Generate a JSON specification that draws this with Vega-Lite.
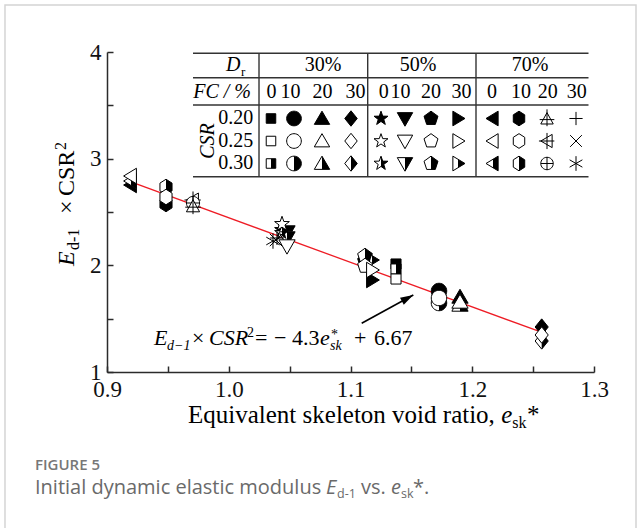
{
"$schema": "https://vega.github.io/schema/vega-lite/v6.json",
"width": 487, "height": 320,
"autosize": {"type": "none"},
"padding": {"left": 107, "top": 52, "right": 47, "bottom": 156},
"background": "white",
"config": {
  "view": {"stroke": null},
  "axis": {"domainColor": "#2b2b2b", "tickColor": "#2b2b2b", "domainWidth": 1.5, "tickWidth": 1.5, "tickSize": -6, "labelFont": "Liberation Serif", "labelFontSize": 23, "labelColor": "#111", "grid": false}
},
"datasets": {
  "frame": [{"x": 0.81622, "x2": 1.3345, "y": 4.4406, "y2": -0.5749}],
  "fit": [{"x": 0.92136, "y": 2.7747}, {"x": 1.25565, "y": 1.3778}],
  "arrow": [{"x": 1.1092, "y": 1.4566, "x2": 1.15158, "y2": 1.72195}],
  "head": [{"x": 1.15158, "y": 1.72195}],
  "hl": [{"x": 0.97064, "x2": 1.29548, "y": 3.9878}, {"x": 0.97064, "x2": 1.29548, "y": 3.7591}, {"x": 0.97064, "x2": 1.29548, "y": 3.5031}, {"x": 0.97064, "x2": 1.29548, "y": 2.8309}],
  "vl": [{"x": 1.02485, "y": 3.9878, "y2": 2.8309}, {"x": 1.11413, "y": 3.9878, "y2": 2.8309}, {"x": 1.20308, "y": 3.9878, "y2": 2.8309}],
  "sym": [
    {"k": "plot", "s": "70-0-0.25", "x": 0.91971, "y": 2.8375},
    {"k": "plot", "s": "70-0-0.30", "x": 0.91971, "y": 2.7906},
    {"k": "plot", "s": "70-0-0.20", "x": 0.91971, "y": 2.7531},
    {"k": "plot", "s": "70-10-0.30", "x": 0.94846, "y": 2.7344},
    {"k": "plot", "s": "70-10-0.25", "x": 0.94846, "y": 2.6406},
    {"k": "plot", "s": "70-10-0.20", "x": 0.94846, "y": 2.575},
    {"k": "plot", "s": "70-20-0.25", "x": 0.97064, "y": 2.6125},
    {"k": "plot", "s": "70-20-0.30", "x": 0.97064, "y": 2.5844},
    {"k": "plot", "s": "70-20-0.20", "x": 0.97064, "y": 2.5563},
    {"k": "plot", "s": "70-30-0.20", "x": 1.03963, "y": 2.2563},
    {"k": "plot", "s": "70-30-0.25", "x": 1.0388, "y": 2.2375},
    {"k": "plot", "s": "70-30-0.30", "x": 1.03634, "y": 2.2281},
    {"k": "plot", "s": "50-0-0.25", "x": 1.04374, "y": 2.3875},
    {"k": "plot", "s": "50-0-0.20", "x": 1.04374, "y": 2.3313},
    {"k": "plot", "s": "50-0-0.30", "x": 1.04374, "y": 2.3031},
    {"k": "plot", "s": "50-10-0.20", "x": 1.04784, "y": 2.3125},
    {"k": "plot", "s": "50-10-0.30", "x": 1.04784, "y": 2.2563},
    {"k": "plot", "s": "50-10-0.25", "x": 1.04784, "y": 2.1813},
    {"k": "plot", "s": "50-20-0.30", "x": 1.11191, "y": 2.0875},
    {"k": "plot", "s": "50-20-0.20", "x": 1.11191, "y": 2.0406},
    {"k": "plot", "s": "50-20-0.25", "x": 1.11191, "y": 1.9938},
    {"k": "plot", "s": "50-30-0.30", "x": 1.11766, "y": 2.05},
    {"k": "plot", "s": "50-30-0.25", "x": 1.11766, "y": 1.9563},
    {"k": "plot", "s": "50-30-0.20", "x": 1.11766, "y": 1.8625},
    {"k": "plot", "s": "30-0-0.20", "x": 1.13737, "y": 2.0125},
    {"k": "plot", "s": "30-0-0.30", "x": 1.13737, "y": 1.9656},
    {"k": "plot", "s": "30-0-0.25", "x": 1.13737, "y": 1.8719},
    {"k": "plot", "s": "30-10-0.20", "x": 1.17269, "y": 1.7594},
    {"k": "plot", "s": "30-10-0.25", "x": 1.17269, "y": 1.6938},
    {"k": "plot", "s": "30-10-0.30", "x": 1.17269, "y": 1.6469},
    {"k": "plot", "s": "30-20-0.20", "x": 1.18993, "y": 1.7031},
    {"k": "plot", "s": "30-20-0.25", "x": 1.18993, "y": 1.6563},
    {"k": "plot", "s": "30-20-0.30", "x": 1.18993, "y": 1.6281},
    {"k": "plot", "s": "30-30-0.20", "x": 1.25704, "y": 1.4219},
    {"k": "plot", "s": "30-30-0.25", "x": 1.25704, "y": 1.3469},
    {"k": "plot", "s": "30-30-0.30", "x": 1.25704, "y": 1.2906},
    {"k": "legend", "s": "30-0-0.20", "x": 1.0347, "y": 3.3766},
    {"k": "legend", "s": "30-0-0.25", "x": 1.0347, "y": 3.1656},
    {"k": "legend", "s": "30-0-0.30", "x": 1.0347, "y": 2.9547},
    {"k": "legend", "s": "30-10-0.20", "x": 1.05359, "y": 3.3766},
    {"k": "legend", "s": "30-10-0.25", "x": 1.05359, "y": 3.1656},
    {"k": "legend", "s": "30-10-0.30", "x": 1.05359, "y": 2.9547},
    {"k": "legend", "s": "30-20-0.20", "x": 1.07659, "y": 3.3766},
    {"k": "legend", "s": "30-20-0.25", "x": 1.07659, "y": 3.1656},
    {"k": "legend", "s": "30-20-0.30", "x": 1.07659, "y": 2.9547},
    {"k": "legend", "s": "30-30-0.20", "x": 1.10041, "y": 3.3766},
    {"k": "legend", "s": "30-30-0.25", "x": 1.10041, "y": 3.1656},
    {"k": "legend", "s": "30-30-0.30", "x": 1.10041, "y": 2.9547},
    {"k": "legend", "s": "50-0-0.20", "x": 1.12505, "y": 3.3766},
    {"k": "legend", "s": "50-0-0.25", "x": 1.12505, "y": 3.1656},
    {"k": "legend", "s": "50-0-0.30", "x": 1.12505, "y": 2.9547},
    {"k": "legend", "s": "50-10-0.20", "x": 1.14476, "y": 3.3766},
    {"k": "legend", "s": "50-10-0.25", "x": 1.14476, "y": 3.1656},
    {"k": "legend", "s": "50-10-0.30", "x": 1.14476, "y": 2.9547},
    {"k": "legend", "s": "50-20-0.20", "x": 1.16612, "y": 3.3766},
    {"k": "legend", "s": "50-20-0.25", "x": 1.16612, "y": 3.1656},
    {"k": "legend", "s": "50-20-0.30", "x": 1.16612, "y": 2.9547},
    {"k": "legend", "s": "50-30-0.20", "x": 1.1883, "y": 3.3766},
    {"k": "legend", "s": "50-30-0.25", "x": 1.1883, "y": 3.1656},
    {"k": "legend", "s": "50-30-0.30", "x": 1.1883, "y": 2.9547},
    {"k": "legend", "s": "70-0-0.20", "x": 1.21704, "y": 3.3766},
    {"k": "legend", "s": "70-0-0.25", "x": 1.21704, "y": 3.1656},
    {"k": "legend", "s": "70-0-0.30", "x": 1.21704, "y": 2.9547},
    {"k": "legend", "s": "70-10-0.20", "x": 1.2384, "y": 3.3766},
    {"k": "legend", "s": "70-10-0.25", "x": 1.2384, "y": 3.1656},
    {"k": "legend", "s": "70-10-0.30", "x": 1.2384, "y": 2.9547},
    {"k": "legend", "s": "70-20-0.20", "x": 1.2614, "y": 3.3766},
    {"k": "legend", "s": "70-20-0.25", "x": 1.2614, "y": 3.1656},
    {"k": "legend", "s": "70-20-0.30", "x": 1.2614, "y": 2.9547},
    {"k": "legend", "s": "70-30-0.20", "x": 1.28522, "y": 3.3766},
    {"k": "legend", "s": "70-30-0.25", "x": 1.28522, "y": 3.1656},
    {"k": "legend", "s": "70-30-0.30", "x": 1.28522, "y": 2.9547}
  ],
  "tblC": [
    {"t": "30%", "x": 1.07741, "y": 3.87813}, {"t": "50%", "x": 1.15544, "y": 3.87813}, {"t": "70%", "x": 1.24743, "y": 3.87813},
    {"t": "0", "x": 1.03519, "y": 3.62782}, {"t": "10", "x": 1.0508, "y": 3.62782}, {"t": "20", "x": 1.07692, "y": 3.62782}, {"t": "30", "x": 1.10411, "y": 3.62782},
    {"t": "0", "x": 1.12727, "y": 3.62782}, {"t": "10", "x": 1.14107, "y": 3.62782}, {"t": "20", "x": 1.16612, "y": 3.62782}, {"t": "30", "x": 1.19117, "y": 3.62782},
    {"t": "0", "x": 1.21622, "y": 3.62782}, {"t": "10", "x": 1.24004, "y": 3.62782}, {"t": "20", "x": 1.26197, "y": 3.62782}, {"t": "30", "x": 1.28587, "y": 3.62782}
  ],
  "tblR": [{"t": "0.20", "x": 1.02016, "y": 3.3766}, {"t": "0.25", "x": 1.02016, "y": 3.1656}, {"t": "0.30", "x": 1.02016, "y": 2.9547}],
  "tblItL": [{"t": "D", "x": 0.99774, "y": 3.87813}],
  "tblSub": [{"t": "r", "x": 1.01006, "y": 3.81531}],
  "tblItR": [{"t": "FC / %", "x": 1.01828, "y": 3.62782}],
  "tblRot": [{"t": "CSR", "x": 0.98296, "y": 3.1656}],
  "eqIt": [{"t": "E", "x": 0.9386, "y": 1.25312}, {"t": "CSR", "x": 0.98378, "y": 1.25312}, {"t": "e", "x": 1.07495, "y": 1.25312}],
  "eqUp": [{"t": "×", "x": 0.96982, "y": 1.25312}, {"t": "=", "x": 1.02156, "y": 1.25312}, {"t": "−", "x": 1.03717, "y": 1.25312}, {"t": "4.3", "x": 1.05195, "y": 1.25312}, {"t": "+", "x": 1.10287, "y": 1.25312}, {"t": "6.67", "x": 1.1193, "y": 1.25312}],
  "eqSubIt": [{"t": "d−1", "x": 0.94928, "y": 1.20625}, {"t": "sk", "x": 1.08316, "y": 1.20625}],
  "eqSup": [{"t": "2", "x": 1.01499, "y": 1.32812}, {"t": "*", "x": 1.08398, "y": 1.30937}],
  "xtUp": [{"t": "Equivalent skeleton void ratio,", "x": 0.96653, "y": 0.52194}, {"t": "*", "x": 1.24497, "y": 0.52194}],
  "xtIt": [{"t": "e", "x": 1.22378, "y": 0.52194}],
  "xtSub": [{"t": "sk", "x": 1.2329, "y": 0.47507}],
  "ytIt": [{"t": "E", "x": 0.8729, "y": 1.99381}],
  "ytUp": [{"t": "×", "x": 0.8729, "y": 2.4813}, {"t": "CSR", "x": 0.8729, "y": 2.65004}],
  "ytSmall": [{"t": "d-1", "x": 0.877, "y": 2.14381}, {"t": "2", "x": 0.86632, "y": 3.08128}],
  "capHead": [{"t": "FIGURE 5", "x": 0.84086, "y": 0.08137}],
  "capUp": [{"t": "Initial dynamic elastic modulus", "x": 0.84086, "y": -0.14362}, {"t": "vs.", "x": 1.10862, "y": -0.14362}, {"t": "*.", "x": 1.15133, "y": -0.14362}],
  "capIt": [{"t": "E", "x": 1.07988, "y": -0.14362}, {"t": "e", "x": 1.13326, "y": -0.14362}],
  "capSub": [{"t": "d-1", "x": 1.08891, "y": -0.18112}, {"t": "sk", "x": 1.14148, "y": -0.18112}]
},
"encoding": {
  "x": {"field": "x", "type": "quantitative", "scale": {"domain": [0.9, 1.3], "nice": false, "zero": false},
        "axis": {"title": null, "values": [0.9, 0.95, 1, 1.05, 1.1, 1.15, 1.2, 1.25, 1.3], "labelExpr": "round(datum.value*100) % 10 == 0 ? format(datum.value, '.1f') : ''", "labelPadding": 12.5, "labelFlush": false, "labelOverlap": false}},
  "y": {"field": "y", "type": "quantitative", "scale": {"domain": [1, 4], "nice": false, "zero": false},
        "axis": {"title": null, "values": [1, 1.5, 2, 2.5, 3, 3.5, 4], "labelExpr": "round(datum.value*10) % 10 == 0 ? format(datum.value, 'd') : ''", "labelPadding": 12, "labelOverlap": false}}
},
"resolve": {"scale": {"shape": "independent"}},
"layer": [
  {"data": {"name": "frame"}, "mark": {"type": "rect", "fill": "white", "fillOpacity": 0, "stroke": "#d4d4d4", "strokeWidth": 1.5},
   "encoding": {"x2": {"field": "x2"}, "y2": {"field": "y2"}}},
  {"data": {"name": "fit"}, "mark": {"type": "line", "color": "#ee1c25", "strokeWidth": 1.3}, "encoding": {}},
  {"data": {"name": "arrow"}, "mark": {"type": "rule", "color": "black", "strokeWidth": 1.6}, "encoding": {"x2": {"field": "x2"}, "y2": {"field": "y2"}}},
  {"data": {"name": "head"}, "mark": {"type": "point", "shape": "M0,0L0.6,2L-0.6,2Z", "size": 169, "angle": 61.3, "filled": true, "fill": "black", "opacity": 1, "strokeWidth": 0}, "encoding": {}},
  {"data": {"name": "hl"}, "mark": {"type": "rule", "color": "#333", "strokeWidth": 1.4}, "encoding": {"x2": {"field": "x2"}}},
  {"data": {"name": "vl"}, "mark": {"type": "rule", "color": "#333", "strokeWidth": 1.4}, "encoding": {"y2": {"field": "y2"}}},
  {"data": {"name": "sym"},
   "transform": [{"filter": "indexof(datum.s,'0.20')>0 && indexof(datum.s,'70-20')<0 && indexof(datum.s,'70-30')<0"}],
   "mark": {"type": "point", "filled": true, "fill": "black", "stroke": "black", "strokeWidth": 1, "opacity": 1},
   "encoding": {
     "shape": {"field": "s", "type": "nominal", "legend": null, "scale": {
       "domain": ["30-0-0.20", "30-10-0.20", "30-20-0.20", "30-30-0.20", "50-0-0.20", "50-10-0.20", "50-20-0.20", "50-30-0.20", "70-0-0.20", "70-10-0.20"],
       "range": ["M-0.65,-0.65H0.65V0.65H-0.65Z", "M-1,0A1,1 0 1,0 1,0A1,1 0 1,0 -1,0Z", "M0,-1L1.05,0.8L-1.05,0.8Z", "M0,-1.05L0.85,0L0,1.05L-0.85,0Z", "M0,-1L0.235,-0.324L0.951,-0.309L0.38,0.124L0.588,0.809L0,0.4L-0.588,0.809L-0.38,0.124L-0.951,-0.309L-0.235,-0.324Z", "M-1.05,-0.8L1.05,-0.8L0,1.05Z", "M0,-1L0.951,-0.309L0.588,0.809L-0.588,0.809L-0.951,-0.309Z", "M-0.7,-1L0.95,0L-0.7,1Z", "M0.7,-1L-0.95,0L0.7,1Z", "M0,-1L0.78,-0.5L0.78,0.5L0,1L-0.78,0.5L-0.78,-0.5Z"]}},
     "size": {"field": "k", "type": "nominal", "legend": null, "scale": {"domain": ["plot", "legend"], "range": [240, 215]}}
   }},
  {"data": {"name": "sym"},
   "transform": [{"filter": "indexof(datum.s,'0.30')>0 && indexof(datum.s,'70-20')<0 && indexof(datum.s,'70-30')<0"}],
   "mark": {"type": "point", "filled": true, "fill": "white", "stroke": "black", "strokeWidth": 1, "opacity": 1},
   "encoding": {
     "shape": {"field": "s", "type": "nominal", "legend": null, "scale": {
       "domain": ["30-0-0.30", "30-10-0.30", "30-20-0.30", "30-30-0.30", "50-0-0.30", "50-10-0.30", "50-20-0.30", "50-30-0.30", "70-0-0.30", "70-10-0.30"],
       "range": ["M-0.65,-0.65H0.65V0.65H-0.65Z", "M-1,0A1,1 0 1,0 1,0A1,1 0 1,0 -1,0Z", "M0,-1L1.05,0.8L-1.05,0.8Z", "M0,-1.05L0.85,0L0,1.05L-0.85,0Z", "M0,-1L0.235,-0.324L0.951,-0.309L0.38,0.124L0.588,0.809L0,0.4L-0.588,0.809L-0.38,0.124L-0.951,-0.309L-0.235,-0.324Z", "M-1.05,-0.8L1.05,-0.8L0,1.05Z", "M0,-1L0.951,-0.309L0.588,0.809L-0.588,0.809L-0.951,-0.309Z", "M-0.7,-1L0.95,0L-0.7,1Z", "M0.7,-1L-0.95,0L0.7,1Z", "M0,-1L0.78,-0.5L0.78,0.5L0,1L-0.78,0.5L-0.78,-0.5Z"]}},
     "size": {"field": "k", "type": "nominal", "legend": null, "scale": {"domain": ["plot", "legend"], "range": [240, 215]}}
   }},
  {"data": {"name": "sym"},
   "transform": [{"filter": "indexof(datum.s,'0.30')>0 && indexof(datum.s,'70-20')<0 && indexof(datum.s,'70-30')<0"}],
   "mark": {"type": "point", "filled": true, "fill": "black", "strokeWidth": 0, "opacity": 1},
   "encoding": {
     "shape": {"field": "s", "type": "nominal", "legend": null, "scale": {
       "domain": ["30-0-0.30", "30-10-0.30", "30-20-0.30", "30-30-0.30", "50-0-0.30", "50-10-0.30", "50-20-0.30", "50-30-0.30", "70-0-0.30", "70-10-0.30"],
       "range": ["M0,-0.65H0.65V0.65H0Z", "M0,-1A1,1 0 0,1 0,1Z", "M0,-1L1.05,0.8L0,0.8Z", "M0,-1.05L0.85,0L0,1.05Z", "M0,-1L0.235,-0.324L0.951,-0.309L0.38,0.124L0.588,0.809L0,0.4Z", "M0,-0.8L1.05,-0.8L0,1.05Z", "M0,-1L0.951,-0.309L0.588,0.809L0,0.809Z", "M0,-0.576L0.95,0L0,0.576Z", "M0,-0.576L0.7,-1L0.7,1L0,0.576Z", "M0,-1L0.78,-0.5L0.78,0.5L0,1Z"]}},
     "size": {"field": "k", "type": "nominal", "legend": null, "scale": {"domain": ["plot", "legend"], "range": [240, 215]}}
   }},
  {"data": {"name": "sym"},
   "transform": [{"filter": "indexof(datum.s,'0.25')>0 || indexof(datum.s,'70-20')>=0 || indexof(datum.s,'70-30')>=0"}],
   "mark": {"type": "point", "filled": true, "fill": "white", "stroke": "black", "strokeWidth": 1, "opacity": 1},
   "encoding": {
     "shape": {"field": "s", "type": "nominal", "legend": null, "scale": {
       "domain": ["30-0-0.25", "30-10-0.25", "30-20-0.25", "30-30-0.25", "50-0-0.25", "50-10-0.25", "50-20-0.25", "50-30-0.25", "70-0-0.25", "70-10-0.25", "70-20-0.25", "70-30-0.25", "70-20-0.20", "70-20-0.30", "70-30-0.20", "70-30-0.30"],
       "range": ["M-0.65,-0.65H0.65V0.65H-0.65Z", "M-1,0A1,1 0 1,0 1,0A1,1 0 1,0 -1,0Z", "M0,-1L1.05,0.8L-1.05,0.8Z", "M0,-1.05L0.85,0L0,1.05L-0.85,0Z", "M0,-1L0.235,-0.324L0.951,-0.309L0.38,0.124L0.588,0.809L0,0.4L-0.588,0.809L-0.38,0.124L-0.951,-0.309L-0.235,-0.324Z", "M-1.05,-0.8L1.05,-0.8L0,1.05Z", "M0,-1L0.951,-0.309L0.588,0.809L-0.588,0.809L-0.951,-0.309Z", "M-0.7,-1L0.95,0L-0.7,1Z", "M0.7,-1L-0.95,0L0.7,1Z", "M0,-1L0.78,-0.5L0.78,0.5L0,1L-0.78,0.5L-0.78,-0.5Z", "M0.7,-0.9L-0.85,0L0.7,0.9Z M-1.1,0H1 M0,-1.1V1.1", "M-0.8,-0.8L0.8,0.8M-0.8,0.8L0.8,-0.8", "M0,-0.8L0.85,0.75L-0.85,0.75Z M0,-1.25V1.05 M-1,0.15H1", "M-0.85,0A0.85,0.85 0 1,0 0.85,0A0.85,0.85 0 1,0 -0.85,0Z M-0.85,0H0.85 M0,-0.85V0.85", "M-0.9,0H0.9M0,-0.9V0.9", "M0,-1V1M-0.87,-0.5L0.87,0.5M-0.87,0.5L0.87,-0.5"]}},
     "size": {"field": "k", "type": "nominal", "legend": null, "scale": {"domain": ["plot", "legend"], "range": [240, 215]}}
   }},
  {"data": {"name": "tblC"}, "mark": {"type": "text", "font": "Liberation Serif", "fontSize": 20, "align": "center", "baseline": "middle", "color": "black"}, "encoding": {"text": {"field": "t"}}},
  {"data": {"name": "tblR"}, "mark": {"type": "text", "font": "Liberation Serif", "fontSize": 20, "align": "right", "baseline": "middle", "color": "black"}, "encoding": {"text": {"field": "t"}}},
  {"data": {"name": "tblItL"}, "mark": {"type": "text", "font": "Liberation Serif", "fontSize": 20, "fontStyle": "italic", "align": "left", "baseline": "middle", "color": "black"}, "encoding": {"text": {"field": "t"}}},
  {"data": {"name": "tblSub"}, "mark": {"type": "text", "font": "Liberation Serif", "fontSize": 13, "align": "left", "baseline": "middle", "color": "black"}, "encoding": {"text": {"field": "t"}}},
  {"data": {"name": "tblItR"}, "mark": {"type": "text", "font": "Liberation Serif", "fontSize": 20, "fontStyle": "italic", "align": "right", "baseline": "middle", "color": "black"}, "encoding": {"text": {"field": "t"}}},
  {"data": {"name": "tblRot"}, "mark": {"type": "text", "font": "Liberation Serif", "fontSize": 20, "fontStyle": "italic", "align": "center", "baseline": "middle", "angle": 270, "color": "black"}, "encoding": {"text": {"field": "t"}}},
  {"data": {"name": "eqIt"}, "mark": {"type": "text", "font": "Liberation Serif", "fontSize": 22, "fontStyle": "italic", "align": "left", "baseline": "alphabetic", "color": "black"}, "encoding": {"text": {"field": "t"}}},
  {"data": {"name": "eqUp"}, "mark": {"type": "text", "font": "Liberation Serif", "fontSize": 22, "align": "left", "baseline": "alphabetic", "color": "black"}, "encoding": {"text": {"field": "t"}}},
  {"data": {"name": "eqSubIt"}, "mark": {"type": "text", "font": "Liberation Serif", "fontSize": 14, "fontStyle": "italic", "align": "left", "baseline": "alphabetic", "color": "black"}, "encoding": {"text": {"field": "t"}}},
  {"data": {"name": "eqSup"}, "mark": {"type": "text", "font": "Liberation Serif", "fontSize": 14, "align": "left", "baseline": "alphabetic", "color": "black"}, "encoding": {"text": {"field": "t"}}},
  {"data": {"name": "xtUp"}, "mark": {"type": "text", "font": "Liberation Serif", "fontSize": 25, "align": "left", "baseline": "alphabetic", "color": "black"}, "encoding": {"text": {"field": "t"}}},
  {"data": {"name": "xtIt"}, "mark": {"type": "text", "font": "Liberation Serif", "fontSize": 25, "fontStyle": "italic", "align": "left", "baseline": "alphabetic", "color": "black"}, "encoding": {"text": {"field": "t"}}},
  {"data": {"name": "xtSub"}, "mark": {"type": "text", "font": "Liberation Serif", "fontSize": 16, "align": "left", "baseline": "alphabetic", "color": "black"}, "encoding": {"text": {"field": "t"}}},
  {"data": {"name": "ytIt"}, "mark": {"type": "text", "font": "Liberation Serif", "fontSize": 24, "fontStyle": "italic", "align": "left", "baseline": "alphabetic", "angle": 270, "color": "black"}, "encoding": {"text": {"field": "t"}}},
  {"data": {"name": "ytUp"}, "mark": {"type": "text", "font": "Liberation Serif", "fontSize": 24, "align": "left", "baseline": "alphabetic", "angle": 270, "color": "black"}, "encoding": {"text": {"field": "t"}}},
  {"data": {"name": "ytSmall"}, "mark": {"type": "text", "font": "Liberation Serif", "fontSize": 16, "align": "left", "baseline": "alphabetic", "angle": 270, "color": "black"}, "encoding": {"text": {"field": "t"}}},
  {"data": {"name": "capHead"}, "mark": {"type": "text", "font": "Open Sans", "fontSize": 15, "fontWeight": 600, "align": "left", "baseline": "alphabetic", "color": "#777777"}, "encoding": {"text": {"field": "t"}}},
  {"data": {"name": "capUp"}, "mark": {"type": "text", "font": "Open Sans", "fontSize": 20, "align": "left", "baseline": "alphabetic", "color": "#6a6a6a"}, "encoding": {"text": {"field": "t"}}},
  {"data": {"name": "capIt"}, "mark": {"type": "text", "font": "Open Sans", "fontSize": 20, "fontStyle": "italic", "align": "left", "baseline": "alphabetic", "color": "#6a6a6a"}, "encoding": {"text": {"field": "t"}}},
  {"data": {"name": "capSub"}, "mark": {"type": "text", "font": "Open Sans", "fontSize": 12.5, "align": "left", "baseline": "alphabetic", "color": "#6a6a6a"}, "encoding": {"text": {"field": "t"}}}
]
}
